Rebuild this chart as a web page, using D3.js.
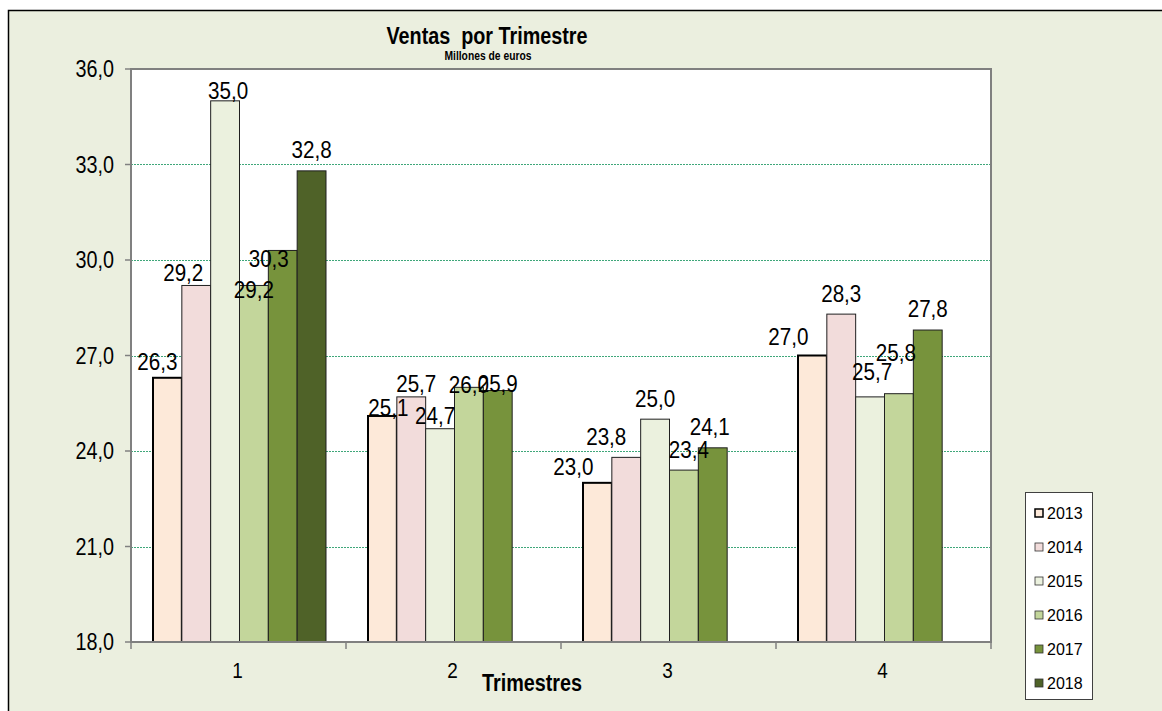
<!DOCTYPE html>
<html>
<head>
<meta charset="utf-8">
<script src="https://cdn.jsdelivr.net/npm/d3@7"></script>
<style>
  html, body { margin: 0; padding: 0; background: #ffffff; }
  svg { display: block; font-family: "Liberation Sans", Arial, sans-serif; }
</style>
</head>
<body>
<svg id="chart" width="1162" height="711"></svg>
<script>
// ---------- data ----------
const categories = ["1", "2", "3", "4"];
const years = ["2013", "2014", "2015", "2016", "2017", "2018"];
const s2013 = [26.3, 25.1, 23.0, 27.0];
const s2014 = [29.2, 25.7, 23.8, 28.3];
const s2015 = [35.0, 24.7, 25.0, 25.7];
const s2016 = [29.2, 26.0, 23.4, 25.8];
const s2017 = [30.3, 25.9, 24.1, 27.8];
const s2018 = [32.8, null, null, null];
const yTickValues = [18, 21, 24, 27, 30, 33, 36];
const titleText = "Ventas  por Trimestre";
const subtitleText = "Millones de euros";
const xAxisTitle = "Trimestres";

const seriesValues = [s2013, s2014, s2015, s2016, s2017, s2018];

// ---------- style / layout ----------
const colors = ["#fde9d9", "#f2dcdb", "#ebf1de", "#c3d69b", "#77933c", "#4f6228"];
const bg = "#ebefdf";
const SX = 0.86; // horizontal text compression of the reference
// label nudges (Excel label collision placement), keyed "q|year" -> [dx, dy]
const labelNudge = {
  "1|2013": [-10, 5], "1|2014": [-13, 8], "1|2015": [3, 11], "1|2016": [0, 25], "1|2017": [-14, 29],
  "2|2013": [6, 13], "2|2014": [5, 8], "2|2015": [-5, 8], "2|2016": [0, 18], "2|2017": [0, 14],
  "3|2013": [-24, 5], "3|2014": [-20, 0], "3|2016": [5, 0], "3|2017": [-3, 0],
  "4|2013": [-24, 2], "4|2015": [2, -4], "4|2016": [-3, -20]
};

const svg = d3.select("#chart");
const plot = { left: 131, right: 991, top: 69, bottom: 642 };

const x0 = d3.scaleBand().domain(categories).range([plot.left, plot.right]).padding(0);
const x1 = d3.scaleBand().domain(years).range([22, 195]).padding(0);
const y = d3.scaleLinear().domain([18, 36]).range([plot.bottom, plot.top]);
const fmt = v => d3.format(".1f")(v).replace(".", ",");

function txt(g, x, yy, s, opts) {
  const t = g.append("text")
    .attr("transform", `translate(${x},${yy}) scale(${opts.sx ?? SX},1)`)
    .attr("text-anchor", opts.anchor || "middle")
    .attr("font-size", opts.size)
    .attr("font-weight", opts.weight || "normal")
    .attr("fill", "#000")
    .style("white-space", "pre")
    .text(s);
  if (opts.dy) t.attr("dy", opts.dy);
  return t;
}

// outer frame
svg.append("rect").attr("x", 8.5).attr("y", 10.5).attr("width", 1200).attr("height", 800)
  .attr("fill", bg).attr("stroke", "#000").attr("stroke-width", 1.5);

// plot area
svg.append("rect").attr("x", plot.left).attr("y", plot.top)
  .attr("width", plot.right - plot.left).attr("height", plot.bottom - plot.top)
  .attr("fill", "#fff");

// gridlines
svg.append("g").selectAll("line").data(yTickValues.filter(v => v > 18 && v < 36)).join("line")
  .attr("x1", plot.left).attr("x2", plot.right)
  .attr("y1", d => Math.round(y(d)) + 0.5).attr("y2", d => Math.round(y(d)) + 0.5)
  .attr("stroke", "#3fa77a").attr("stroke-width", 1).attr("stroke-dasharray", "2,1");

// bars
const rows = [];
categories.forEach((c, qi) => {
  years.forEach((yr, si) => {
    const v = seriesValues[si][qi];
    if (v != null) rows.push({ c, yr, si, v });
  });
});

svg.append("g").selectAll("rect").data(rows).join("rect")
  .attr("x", d => x0(d.c) + x1(d.yr))
  .attr("y", d => y(d.v))
  .attr("width", x1.bandwidth())
  .attr("height", d => y(18) - y(d.v))
  .attr("fill", d => colors[d.si])
  .attr("stroke", d => d.si === 0 ? "#000" : "#1f1f1f")
  .attr("stroke-width", d => d.si === 0 ? 2 : 1);

// plot border
svg.append("rect").attr("x", plot.left).attr("y", plot.top)
  .attr("width", plot.right - plot.left).attr("height", plot.bottom - plot.top)
  .attr("fill", "none").attr("stroke", "#808080").attr("stroke-width", 2);

// y axis ticks & labels
const yAx = svg.append("g");
yTickValues.forEach(v => {
  yAx.append("line").attr("x1", plot.left - 6).attr("x2", plot.left)
    .attr("y1", y(v)).attr("y2", y(v)).attr("stroke", "#808080").attr("stroke-width", 1.5);
  txt(yAx, plot.left - 17, y(v), fmt(v), { size: 23, anchor: "end", dy: "0.35em" });
});

// x axis ticks & labels
const xAx = svg.append("g");
const bounds = categories.map(c => x0(c)).concat([plot.right]);
bounds.forEach(bx => {
  xAx.append("line").attr("x1", bx).attr("x2", bx).attr("y1", plot.bottom).attr("y2", plot.bottom + 7)
    .attr("stroke", "#808080").attr("stroke-width", 1.5);
});
categories.forEach(c => {
  txt(xAx, x0(c) + x0.bandwidth() / 2 - 1, 678, c, { size: 22 });
});
txt(svg, 532, 691, xAxisTitle, { size: 23, weight: "bold" });

// data labels
const lab = svg.append("g");
rows.forEach(d => {
  const n = labelNudge[d.c + "|" + d.yr] || [0, 0];
  const cx = x0(d.c) + x1(d.yr) + x1.bandwidth() / 2 + n[0];
  const cy = y(d.v) - 21 + n[1];
  txt(lab, cx, cy, fmt(d.v), { size: 24, dy: "0.35em" });
});

// title
txt(svg, 487, 44, titleText, { size: 23, weight: "bold" });
txt(svg, 488, 60, subtitleText, { size: 12, weight: "bold" });

// legend
const lg = svg.append("g");
lg.append("rect").attr("x", 1025.5).attr("y", 492.5).attr("width", 67).attr("height", 207)
  .attr("fill", "#fff").attr("stroke", "#404040").attr("stroke-width", 1);
years.forEach((yr, i) => {
  const cy = 513 + i * 34;
  lg.append("rect").attr("x", 1035).attr("y", cy - 4).attr("width", 8).attr("height", 8)
    .attr("fill", colors[i]).attr("stroke", i === 0 ? "#000" : "#333").attr("stroke-width", i === 0 ? 1.5 : 0.8);
  txt(lg, 1047, cy, yr, { size: 16, anchor: "start", dy: "0.35em", sx: 1 });
});
</script>
</body>
</html>
